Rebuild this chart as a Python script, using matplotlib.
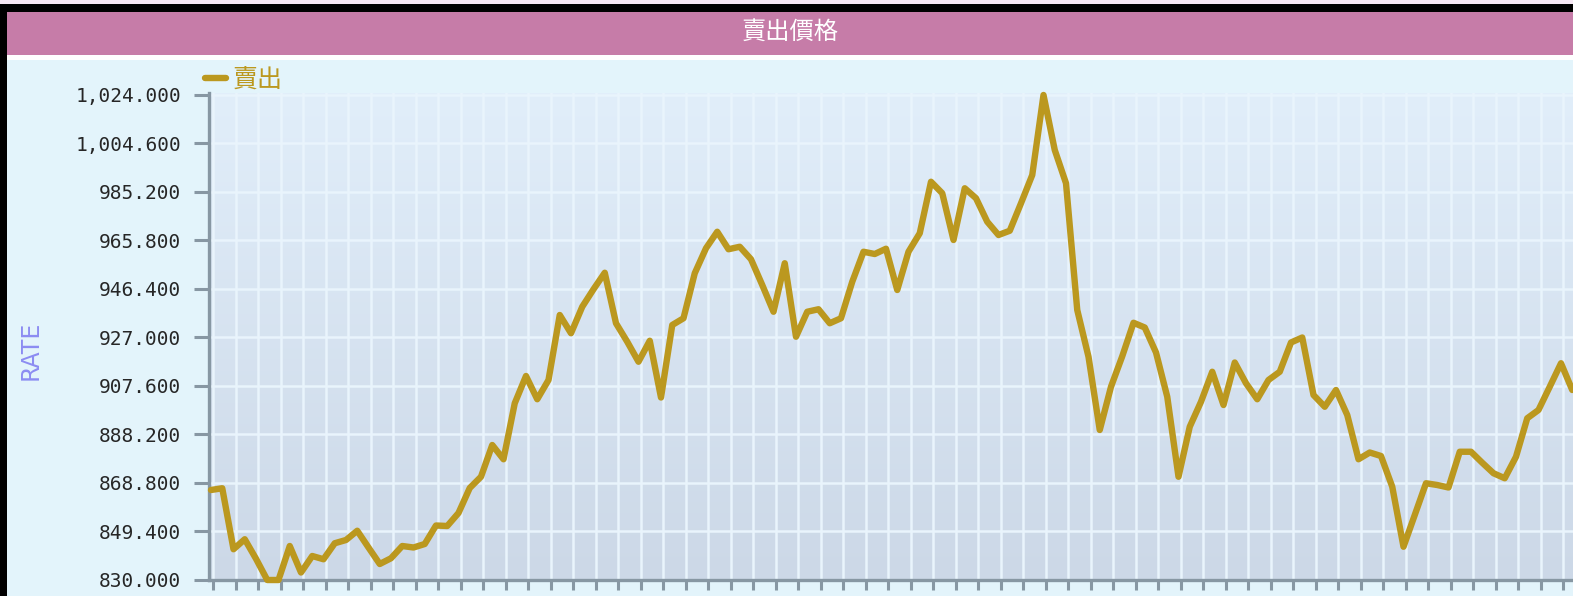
import matplotlib
matplotlib.use("Agg")
import matplotlib.pyplot as plt
import numpy as np
from matplotlib.patches import Rectangle

# ---------------- data ----------------
title = "賣出價格"
series_name = "賣出"
y_label = "RATE"
sell_rate = [
    866.0, 866.7, 842.3, 846.3, 838.5, 830.0, 830.0, 843.6, 833.0, 839.6,
    838.3, 844.7, 846.0, 849.7, 843.0, 836.4, 838.7, 843.6, 843.0, 844.4,
    851.8, 851.6, 856.8, 866.8, 871.3, 884.0, 878.3, 900.7, 911.6, 902.3,
    910.0, 936.0, 928.7, 939.3, 946.3, 952.9, 932.7, 925.3, 917.3, 925.7,
    903.0, 932.0, 934.7, 952.7, 962.7, 969.3, 962.3, 963.3, 958.3, 948.0,
    937.3, 956.7, 927.3, 937.3, 938.3, 932.7, 934.7, 949.3, 961.3, 960.4,
    962.5, 946.0, 961.3, 968.7, 989.3, 984.7, 966.0, 986.7, 982.7, 973.3,
    968.0, 969.7, 980.7, 992.0, 1024.0, 1002.0, 988.7, 938.0, 919.3, 890.0,
    907.3, 919.5, 932.9, 931.0, 921.0, 903.3, 871.3, 891.3, 901.3, 913.3,
    900.0, 917.0, 908.7, 902.3, 910.0, 913.3, 925.0, 927.0, 904.0, 899.3,
    906.0, 896.0, 878.3, 881.0, 879.6, 867.3, 843.3, 856.0, 868.7, 868.0,
    867.0, 881.3, 881.3, 876.9, 872.7, 870.7, 879.3, 894.7, 898.0, 907.3,
    916.7, 906.0,
]
y_ticks = [830.0 + 19.4 * k for k in range(11)]
y_tick_labels = [f"{v:,.3f}" for v in y_ticks]

# ---------------- figure ----------------
W, H = 1573, 596
fig = plt.figure(figsize=(W / 100, H / 100), dpi=100)
fig.patch.set_facecolor("black")

def rect_px(x0, y0, x1, y1, color, z=0):
    fig.patches.append(Rectangle((x0 / W, 1 - y1 / H), (x1 - x0) / W, (y1 - y0) / H,
                                 transform=fig.transFigure, facecolor=color,
                                 edgecolor="none", zorder=z))

rect_px(0, 0, W, 4, "#F6E8F4")          # strip of previous panel
rect_px(7, 12, W, 55, "#C67CA8")        # title bar
rect_px(7, 55, W, 60, "#FFFFFF")        # white separator
rect_px(7, 60, W, H, "#E3F4FB")         # panel background

fig.text(790 / W, 1 - 32 / H, title, color="white", fontsize=17.5,
         ha="center", va="center", family=["Noto Sans CJK TC", "DejaVu Sans"])

# axes geometry (pixels)
left_px, right_px, top_px, bot_px = 209, 1600, 93, 580
x0_pix, dx_pix = 211.0, 11.25
pos = [left_px / W, 1 - bot_px / H, (right_px - left_px) / W, (bot_px - top_px) / H]

# gradient background
bg = fig.add_axes(pos, zorder=1)
grad = np.linspace(0, 1, 256)[:, None]
top_c = np.array([225, 238, 250]) / 255
bot_c = np.array([204, 216, 231]) / 255
img = top_c[None, None, :] * (1 - grad[:, :, None]) + bot_c[None, None, :] * grad[:, :, None]
bg.imshow(img, aspect="auto", extent=[0, 1, 0, 1])
bg.set_axis_off()

ax = fig.add_axes(pos, zorder=2)
ax.patch.set_alpha(0)

x = np.arange(len(sell_rate))
ax.plot(x, sell_rate, color="#BB981F", lw=4.6, solid_joinstyle="round",
        solid_capstyle="round", label=series_name, zorder=3, clip_on=False)

# grid / ticks
xt = np.arange(0, 124, 2) + 0.18
ax.set_xticks(xt)
ax.set_xticklabels([])
ax.set_yticks(y_ticks)
ax.set_yticklabels(y_tick_labels, family="DejaVu Sans Mono", fontsize=14,
                   color="#262626")
ax.set_xlim((left_px - x0_pix) / dx_pix, (right_px - x0_pix) / dx_pix)
ax.set_ylim(830, 830 + (bot_px - top_px) / 2.5)
ax.grid(True, color="#E9F4FC", lw=1.8, zorder=1)
ax.set_axisbelow(True)

for s in ["top", "right"]:
    ax.spines[s].set_visible(False)
for s in ["left", "bottom"]:
    ax.spines[s].set_color("#8797A3")
    ax.spines[s].set_linewidth(2.4)

ax.tick_params(axis="y", direction="out", length=11, width=2.2, color="#8797A3", pad=9)
ax.tick_params(axis="x", direction="out", length=7, width=2.2, color="#8797A3")

fig.text(31 / W, 1 - 350 / H, y_label, rotation=90, color="#8C8CF2",
         fontsize=17, ha="center", va="center", family="Liberation Sans Narrow")

leg = ax.legend(loc="center left", bbox_to_anchor=(205 / W, 1 - 80 / H),
                bbox_transform=fig.transFigure, frameon=False, borderpad=0,
                borderaxespad=0, handlelength=0.85, handletextpad=0.25,
                prop={"family": ["Noto Sans CJK TC", "DejaVu Sans"], "size": 18},
                labelcolor="#BB981F")

fig.savefig("out.png", dpi=100, facecolor=fig.get_facecolor())
